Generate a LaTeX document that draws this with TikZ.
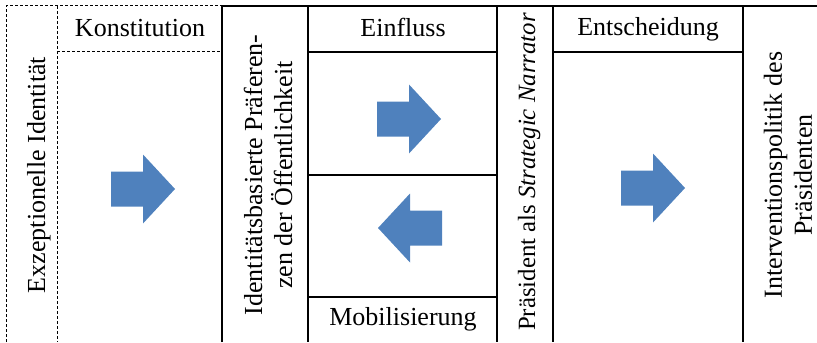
\documentclass[tikz,border=0pt]{standalone}
\usepackage{fontspec}
\setmainfont{Liberation Serif}
\usepackage{tikz}
\usetikzlibrary{positioning}
\definecolor{arrowblue}{HTML}{4F81BD}

\begin{document}
\begin{tikzpicture}[x=0.5pt,y=-0.5pt,
    grid/.style={line width=1pt},
    dgrid/.style={line width=0.5pt,dash pattern=on 1.5pt off 1pt},
    lbl/.style={font=\fontsize{13}{15}\selectfont,inner sep=0pt},
    vlbl/.style={lbl,rotate=90,align=center},
    blockarrow/.pic={\fill[arrowblue] (-32,-17.5) -- (0,-17.5) -- (0,-34.5) -- (32,0) -- (0,34.5) -- (0,17.5) -- (-32,17.5) -- cycle;}]
\useasboundingbox (0,0) rectangle (817,342);

% dashed part: Konstitution
\draw[dgrid] (6,342) -- (6,6) -- (222,6);
\draw[dgrid] (57,6) -- (57,342);
\draw[dgrid] (57,52) -- (222,52);

% solid part
\draw[grid] (222,342) -- (222,6) -- (817,6);
\foreach \x in {308,497,553,743}
    \draw[grid] (\x,6) -- (\x,342);
\foreach \y in {52,175,297}
    \draw[grid] (308,\y) -- (497,\y);
\draw[grid] (553,52) -- (743,52);

% labels
\node[vlbl,anchor=base] (exid) at (45,175) {Exzeptionelle Identität};
\node[lbl,anchor=base] (konst) at (140,37) {Konstitution};
\node[vlbl] (praef) at (268,175) {Identitätsbasierte Präferen-\\zen der Öffentlichkeit};
\node[lbl,anchor=base] (einfl) at (403,37) {Einfluss};
\node[lbl,anchor=base] (mobil) at (403,325) {Mobilisierung};
\node[vlbl,anchor=base,font=\fontsize{12.4}{15}\selectfont] (narr) at (535,172) {Präsident als \textit{Strategic Narrator}};
\node[lbl,anchor=base] (entsch) at (648,36) {Entscheidung};
\node[vlbl] (interv) at (788,175) {Interventionspolitik des\\Präsidenten};

% block arrows
\pic (konstarr) at (143,189) {blockarrow};
\pic (einflarr) at (409,119) {blockarrow};
\pic[rotate=180] (mobilarr) at (410,228) {blockarrow};
\pic (entscharr) at (653,188) {blockarrow};
\end{tikzpicture}
\end{document}
